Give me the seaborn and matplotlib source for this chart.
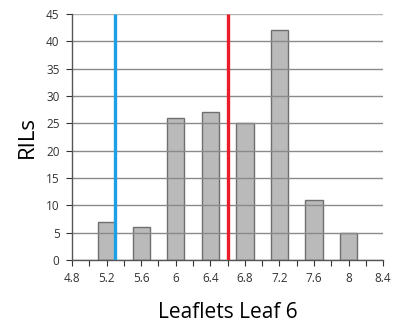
import matplotlib
matplotlib.use("Agg")
import matplotlib.pyplot as plt
import seaborn as sns
import pandas as pd
import numpy as np

bins = [5.2, 5.6, 6.0, 6.4, 6.8, 7.2, 7.6, 8.0]
counts = [7, 6, 26, 27, 25, 42, 11, 5]
blue_line = 5.3
red_line = 6.6
x_ticks = [4.8, 5.2, 5.6, 6.0, 6.4, 6.8, 7.2, 7.6, 8.0, 8.4]
x_tick_labels = ["4.8", "5.2", "5.6", "6", "6.4", "6.8", "7.2", "7.6", "8", "8.4"]
y_ticks = [0, 5, 10, 15, 20, 25, 30, 35, 40, 45]

sns.set_style("white")
plt.rcParams['font.family'] = ['Open Sans', 'DejaVu Sans']

df = pd.DataFrame({"bin": bins, "count": counts})

fig = plt.figure(figsize=(4.05, 3.27), dpi=100)
ax = fig.add_axes([0.178, 0.205, 0.768, 0.752])

sns.barplot(data=df, x="bin", y="count", native_scale=True, width=0.5,
            color="#bababa", saturation=1, edgecolor="#6f6f6f", linewidth=1,
            ax=ax, zorder=1)

for y in y_ticks:
    ax.axhline(y, color="#8a8a8a" if y < 45 else "#b5b5b5", lw=1, zorder=2)

ax.vlines([blue_line], 0, 45, color="#1ea0e6", lw=2.4, zorder=3)
ax.vlines([red_line], 0, 45, color="#ea1c2a", lw=2.4, zorder=3)

ax.set_xlim(4.8, 8.4)
ax.set_ylim(0, 45)
ax.set_xticks(x_ticks)
ax.set_xticklabels(x_tick_labels)
ax.set_xticks(np.arange(5.0, 8.4, 0.4), minor=True)
ax.set_yticks(y_ticks)
ax.tick_params(axis="both", labelsize=8.5, colors="#333333", length=4,
               width=0.8, direction="out")
ax.tick_params(axis="x", pad=5)
ax.tick_params(axis="x", which="minor", length=4, width=0.8, color="#333333")
ax.tick_params(axis="x", bottom=True, which="both")
ax.tick_params(axis="y", left=True, pad=5)

for side in ["top", "right"]:
    ax.spines[side].set_visible(False)
for side in ["left", "bottom"]:
    ax.spines[side].set_color("#555555")
    ax.spines[side].set_linewidth(1)

ax.set_xlabel("Leaflets Leaf 6", fontsize=15, labelpad=12, color="black")
ax.set_ylabel("RILs", fontsize=16, labelpad=6, color="black")

fig.savefig("out.png", dpi=100)
